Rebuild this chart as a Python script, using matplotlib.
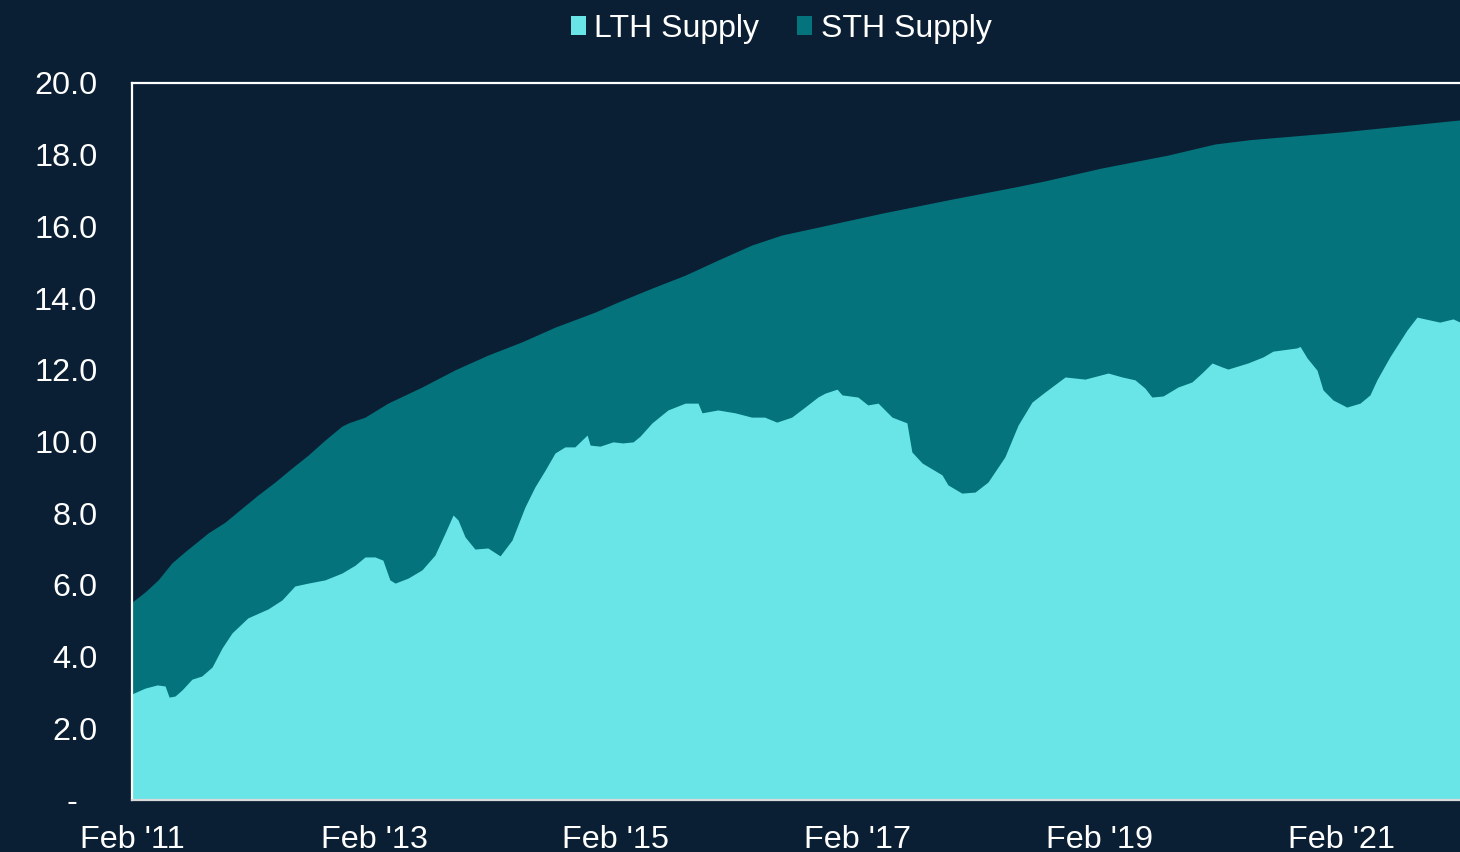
import matplotlib
matplotlib.use("Agg")
import matplotlib.pyplot as plt
import matplotlib.dates as mdates
from matplotlib.patches import Patch
from matplotlib.transforms import ScaledTranslation
import pandas as pd

# Long-term holder supply (millions of BTC)
lth_dates = [
    "2011-02-01", "2011-03-12", "2011-04-18", "2011-05-12", "2011-05-24", "2011-06-11",
    "2011-07-02", "2011-08-01", "2011-08-31", "2011-10-01", "2011-10-31", "2011-11-30",
    "2012-01-17", "2012-03-18", "2012-04-29", "2012-06-07", "2012-07-17", "2012-09-06",
    "2012-10-27", "2012-12-06", "2013-01-05", "2013-02-04", "2013-02-28", "2013-03-21",
    "2013-04-06", "2013-05-15", "2013-06-26", "2013-08-04", "2013-09-04", "2013-09-28",
    "2013-10-13", "2013-11-03", "2013-12-03", "2014-01-11", "2014-02-17", "2014-03-25",
    "2014-05-03", "2014-06-02", "2014-07-03", "2014-08-02", "2014-09-01", "2014-10-01",
    "2014-11-07", "2014-11-16", "2014-12-16", "2015-01-24", "2015-02-23", "2015-03-26",
    "2015-04-16", "2015-05-22", "2015-07-09", "2015-08-30", "2015-10-08", "2015-10-20",
    "2015-12-07", "2016-01-28", "2016-03-18", "2016-04-26", "2016-06-02", "2016-07-17",
    "2016-08-26", "2016-10-04", "2016-10-26", "2016-12-01", "2016-12-16", "2017-02-02",
    "2017-03-04", "2017-04-04", "2017-05-16", "2017-06-30", "2017-07-15", "2017-08-15",
    "2017-10-14", "2017-11-01", "2017-12-13", "2018-01-22", "2018-03-02", "2018-04-22",
    "2018-06-01", "2018-07-13", "2018-08-21", "2018-10-21", "2018-12-20", "2019-02-28",
    "2019-04-11", "2019-05-20", "2019-06-19", "2019-07-10", "2019-08-13", "2019-09-27",
    "2019-11-08", "2019-12-08", "2020-01-08", "2020-02-07", "2020-02-25", "2020-04-25",
    "2020-06-10", "2020-07-10", "2020-09-20", "2020-09-30", "2020-10-21", "2020-11-20",
    "2020-12-08", "2021-01-07", "2021-02-18", "2021-03-30", "2021-04-29", "2021-05-20",
    "2021-06-28", "2021-08-19", "2021-09-18", "2021-10-27", "2021-11-26", "2022-01-05",
    "2022-01-26",
]
lth_supply = [
    2.96, 3.12, 3.21, 3.18, 2.87, 2.90,
    3.07, 3.37, 3.46, 3.71, 4.24, 4.66,
    5.08, 5.33, 5.58, 5.97, 6.05, 6.14,
    6.33, 6.55, 6.78, 6.78, 6.69, 6.14,
    6.05, 6.19, 6.42, 6.83, 7.45, 7.95,
    7.81, 7.34, 7.00, 7.03, 6.81, 7.25,
    8.17, 8.73, 9.20, 9.68, 9.85, 9.85,
    10.18, 9.90, 9.87, 9.99, 9.96, 9.99,
    10.15, 10.52, 10.88, 11.07, 11.07, 10.80,
    10.88, 10.80, 10.68, 10.68, 10.54, 10.68,
    10.96, 11.24, 11.35, 11.46, 11.30, 11.24,
    11.02, 11.07, 10.68, 10.52, 9.71, 9.40,
    9.07, 8.79, 8.56, 8.59, 8.87, 9.57,
    10.46, 11.10, 11.38, 11.80, 11.74, 11.91,
    11.80, 11.72, 11.49, 11.24, 11.27, 11.52,
    11.66, 11.91, 12.19, 12.08, 12.02, 12.19,
    12.36, 12.52, 12.61, 12.65, 12.33, 11.99,
    11.44, 11.16, 10.96, 11.07, 11.30, 11.72,
    12.36, 13.11, 13.47, 13.39, 13.33, 13.42,
    13.33,
]

# Total circulating supply (LTH + STH, millions of BTC)
total_dates = [
    "2011-02-01", "2011-03-12", "2011-04-21", "2011-06-01", "2011-07-10", "2011-09-19",
    "2011-11-09", "2011-12-30", "2012-02-17", "2012-04-08", "2012-05-29", "2012-07-17",
    "2012-09-06", "2012-10-27", "2012-11-16", "2013-01-05", "2013-03-15", "2013-06-26",
    "2013-10-04", "2014-01-11", "2014-04-24", "2014-08-02", "2014-12-01", "2015-02-08",
    "2015-05-22", "2015-08-30", "2015-12-07", "2016-03-18", "2016-06-17", "2016-09-25",
    "2017-04-16", "2017-11-01", "2018-05-23", "2018-08-21", "2019-02-09", "2019-08-28",
    "2020-01-17", "2020-05-02", "2021-01-28", "2022-01-26",
]
total_supply = [
    5.52, 5.80, 6.14, 6.61, 6.92, 7.45,
    7.75, 8.14, 8.51, 8.87, 9.26, 9.62,
    10.04, 10.43, 10.52, 10.68, 11.07, 11.52,
    12.00, 12.41, 12.78, 13.19, 13.61, 13.89,
    14.28, 14.64, 15.06, 15.48, 15.76, 15.96,
    16.37, 16.74, 17.10, 17.27, 17.63, 17.99,
    18.30, 18.42, 18.63, 18.97,
]

series_labels = ["LTH Supply", "STH Supply"]
y_ticks = [0, 2, 4, 6, 8, 10, 12, 14, 16, 18, 20]
x_tick_dates = ["2011-02-01", "2013-02-01", "2015-02-01", "2017-02-01", "2019-02-01", "2021-02-01"]

BG = "#0b1f34"
LTH_COLOR = "#69e5e7"
STH_COLOR = "#04737c"
FONT = "Liberation Sans"

plt.rcParams["font.family"] = [FONT, "DejaVu Sans"]

fig = plt.figure(figsize=(14.6, 8.52), dpi=100, facecolor=BG)
ax = fig.add_axes([132 / 1460, 1 - 800 / 852, 1 - 132 / 1460, (800 - 83) / 852])
ax.set_facecolor(BG)

td = pd.to_datetime(total_dates)
ld = pd.to_datetime(lth_dates)

# total supply drawn first; the LTH layer on top leaves the STH band visible
ax.fill_between(td, 0, total_supply, color=STH_COLOR, linewidth=0)
ax.fill_between(ld, 0, lth_supply, color=LTH_COLOR, linewidth=0)

ax.set_xlim(pd.Timestamp("2011-02-01"), pd.Timestamp("2022-01-26"))
ax.set_ylim(0, 20)

ax.set_yticks(y_ticks)
ax.set_yticklabels(["-"] + [f"{v:.1f}" for v in y_ticks[1:]])
ax.set_xticks(pd.to_datetime(x_tick_dates))
ax.xaxis.set_major_formatter(mdates.DateFormatter("%b '%y"))

ax.tick_params(axis="both", length=0, labelcolor="white", labelsize=23.3)
ax.tick_params(axis="y", pad=25)
ax.tick_params(axis="x", pad=18)

for side in ("top", "left"):
    ax.spines[side].set_color("white")
    ax.spines[side].set_linewidth(1.6)
ax.spines["bottom"].set_color("#d9d9d9")
ax.spines["bottom"].set_linewidth(1.6)
ax.spines["right"].set_visible(False)

# zero is shown as a dash, set further left as in accounting format
zero_label = ax.get_yticklabels()[0]
zero_label.set_transform(zero_label.get_transform()
                         + ScaledTranslation(-20 / 100, 0, fig.dpi_scale_trans))

handles = [Patch(facecolor=LTH_COLOR, edgecolor="none"),
           Patch(facecolor=STH_COLOR, edgecolor="none")]
fig.legend(handles, series_labels, loc="center", bbox_to_anchor=(0.535, 0.966),
           ncol=2, frameon=False, fontsize=23, labelcolor="white",
           handlelength=0.47, handleheight=0.55, handletextpad=0.26,
           columnspacing=1.2, borderpad=0)

fig.savefig("out.png", dpi=100, facecolor=BG)
